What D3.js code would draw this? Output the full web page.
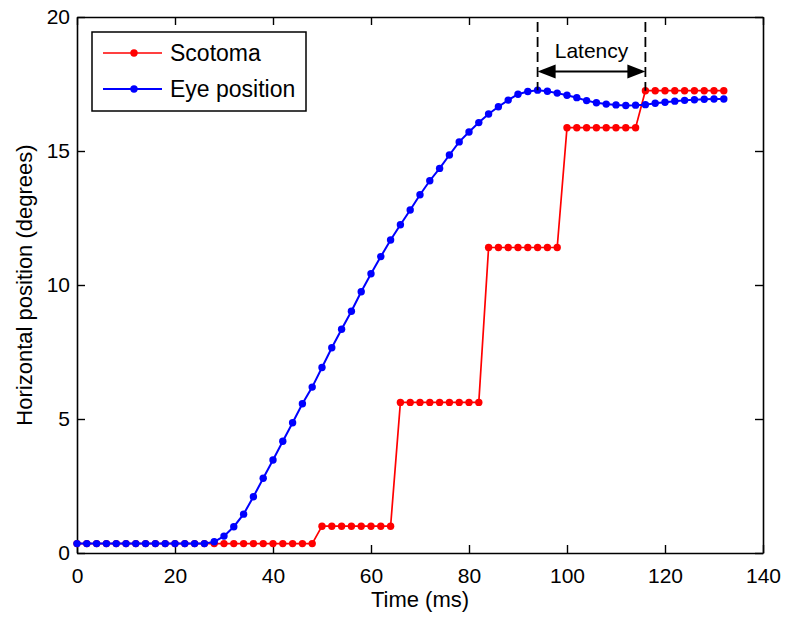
<!DOCTYPE html>
<html>
<head>
<meta charset="utf-8">
<script src="https://cdn.jsdelivr.net/npm/d3@7"></script>
<style>
  body { margin: 0; background: #fff; }
  svg text { font-family: "Liberation Sans", Arial, Helvetica, sans-serif; fill: #000; }
</style>
</head>
<body>
<svg width="788" height="618"></svg>
<script>
// sample times (ms)
const time = [0, 2, 4, 6, 8, 10, 12, 14, 16, 18, 20, 22, 24, 26, 28, 30, 32, 34, 36, 38,
  40, 42, 44, 46, 48, 50, 52, 54, 56, 58, 60, 62, 64, 66, 68, 70, 72, 74, 76, 78,
  80, 82, 84, 86, 88, 90, 92, 94, 96, 98, 100, 102, 104, 106, 108, 110, 112, 114, 116, 118,
  120, 122, 124, 126, 128, 130, 132];

const scotoma = [0.35, 0.35, 0.35, 0.35, 0.35, 0.35, 0.35, 0.35, 0.35, 0.35,
  0.35, 0.35, 0.35, 0.35, 0.35, 0.35, 0.35, 0.35, 0.35, 0.35,
  0.35, 0.35, 0.35, 0.35, 0.35,
  1.0, 1.0, 1.0, 1.0, 1.0, 1.0, 1.0, 1.0,
  5.62, 5.62, 5.62, 5.62, 5.62, 5.62, 5.62, 5.62, 5.62,
  11.4, 11.4, 11.4, 11.4, 11.4, 11.4, 11.4, 11.4,
  15.87, 15.87, 15.87, 15.87, 15.87, 15.87, 15.87, 15.87,
  17.25, 17.25, 17.25, 17.25, 17.25, 17.25, 17.25, 17.25, 17.25];

const eye = [0.35, 0.35, 0.35, 0.35, 0.35, 0.35, 0.35, 0.35, 0.35, 0.35,
  0.35, 0.35, 0.35, 0.35, 0.42, 0.63, 0.98, 1.45, 2.1, 2.79,
  3.47, 4.17, 4.86, 5.57, 6.19, 6.92, 7.66, 8.35, 9.02, 9.75,
  10.42, 11.06, 11.68, 12.25, 12.8, 13.37, 13.89, 14.35, 14.85, 15.34,
  15.71, 16.06, 16.38, 16.65, 16.9, 17.12, 17.22, 17.27, 17.23, 17.16,
  17.08, 16.99, 16.88, 16.8, 16.75, 16.72, 16.7, 16.71, 16.73, 16.78,
  16.82, 16.86, 16.89, 16.91, 16.93, 16.94, 16.94];

const xTicks = [0, 20, 40, 60, 80, 100, 120, 140];
const yTicks = [0, 5, 10, 15, 20];
const seriesNames = ["Scotoma", "Eye position"];
const seriesColors = ["#ff0000", "#0000ff"];
const latency = [94, 116]; // start / end of latency annotation (ms)

const svg = d3.select("svg");
const margin = { left: 77, right: 25, top: 17, bottom: 65 };
const W = +svg.attr("width"), H = +svg.attr("height");

const x = d3.scaleLinear().domain([0, 140]).range([margin.left, W - margin.right]);
const y = d3.scaleLinear().domain([0, 20]).range([H - margin.bottom, margin.top]);

// axes, MATLAB style: inward ticks on all four sides
const tickLen = 8;
const axisG = svg.append("g");
axisG.append("g")
  .attr("class", "xb")
  .attr("transform", `translate(0,${y(0)})`)
  .call(d3.axisBottom(x).tickValues(xTicks).tickSize(-tickLen).tickPadding(15).tickSizeOuter(0));
axisG.append("g")
  .attr("transform", `translate(0,${y(20)})`)
  .call(d3.axisTop(x).tickValues(xTicks).tickSize(-tickLen).tickFormat("").tickSizeOuter(0));
axisG.append("g")
  .attr("transform", `translate(${x(0)},0)`)
  .call(d3.axisLeft(y).tickValues(yTicks).tickSize(-tickLen).tickPadding(7).tickSizeOuter(0));
axisG.append("g")
  .attr("transform", `translate(${x(140)},0)`)
  .call(d3.axisRight(y).tickValues(yTicks).tickSize(-tickLen).tickFormat("").tickSizeOuter(0));
axisG.selectAll(".domain").attr("stroke", "#000").attr("stroke-width", 1.6);
axisG.selectAll(".tick line").attr("stroke", "#000").attr("stroke-width", 1.4);
axisG.selectAll(".tick text").style("font-size", "21px").attr("fill", "#000");

// axis labels
svg.append("text")
  .attr("x", (x(0) + x(140)) / 2)
  .attr("y", 607)
  .attr("text-anchor", "middle")
  .style("font-size", "22px")
  .text("Time (ms)");
svg.append("text")
  .attr("transform", `translate(32,${(y(0) + y(20)) / 2}) rotate(-90)`)
  .attr("text-anchor", "middle")
  .style("font-size", "22px")
  .text("Horizontal position (degrees)");

// series
const series = [scotoma, eye];
const line = d3.line().x((d, i) => x(time[i])).y(d => y(d));
series.forEach((vals, k) => {
  const g = svg.append("g");
  g.append("path")
    .datum(vals)
    .attr("d", line)
    .attr("fill", "none")
    .attr("stroke", seriesColors[k])
    .attr("stroke-width", k === 0 ? 1.7 : 2);
  g.selectAll("circle")
    .data(vals)
    .join("circle")
    .attr("cx", (d, i) => x(time[i]))
    .attr("cy", d => y(d))
    .attr("r", 3.7)
    .attr("fill", seriesColors[k]);
});

// latency annotation
const latY = 71.5;
const ann = svg.append("g");
const ax0 = x(latency[0]), ax1 = x(latency[1]);
[[ax0, y(d3.max(eye))], [ax1, y(scotoma[scotoma.length - 1])]].forEach(([lx, ly]) => {
  ann.append("line")
    .attr("x1", lx).attr("x2", lx)
    .attr("y1", y(20) + 5).attr("y2", ly)
    .attr("stroke", "#000").attr("stroke-width", 1.8).attr("stroke-dasharray", "10,5");
});
ann.append("line")
  .attr("x1", ax0 + 10).attr("x2", ax1 - 10)
  .attr("y1", latY).attr("y2", latY)
  .attr("stroke", "#000").attr("stroke-width", 2.2);
ann.append("path")
  .attr("d", `M${ax0},${latY} L${ax0 + 18},${latY - 7} L${ax0 + 18},${latY + 7} Z`)
  .attr("fill", "#000");
ann.append("path")
  .attr("d", `M${ax1},${latY} L${ax1 - 18},${latY - 7} L${ax1 - 18},${latY + 7} Z`)
  .attr("fill", "#000");
ann.append("text")
  .attr("x", (ax0 + ax1) / 2)
  .attr("y", 58)
  .attr("text-anchor", "middle")
  .style("font-size", "21px")
  .text("Latency");

// legend
const leg = svg.append("g");
leg.append("rect")
  .attr("x", 92).attr("y", 32).attr("width", 214).attr("height", 79)
  .attr("fill", "#fff").attr("stroke", "#000").attr("stroke-width", 1.5);
seriesNames.forEach((name, k) => {
  const ly = 53 + k * 36;
  leg.append("line")
    .attr("x1", 103).attr("x2", 162).attr("y1", ly).attr("y2", ly)
    .attr("stroke", seriesColors[k]).attr("stroke-width", k === 0 ? 1.7 : 2);
  leg.append("circle")
    .attr("cx", 134).attr("cy", ly).attr("r", 3.7)
    .attr("fill", seriesColors[k]);
  leg.append("text")
    .attr("x", 170).attr("y", ly + 8)
    .style("font-size", "23px")
    .text(name);
});
</script>
</body>
</html>
